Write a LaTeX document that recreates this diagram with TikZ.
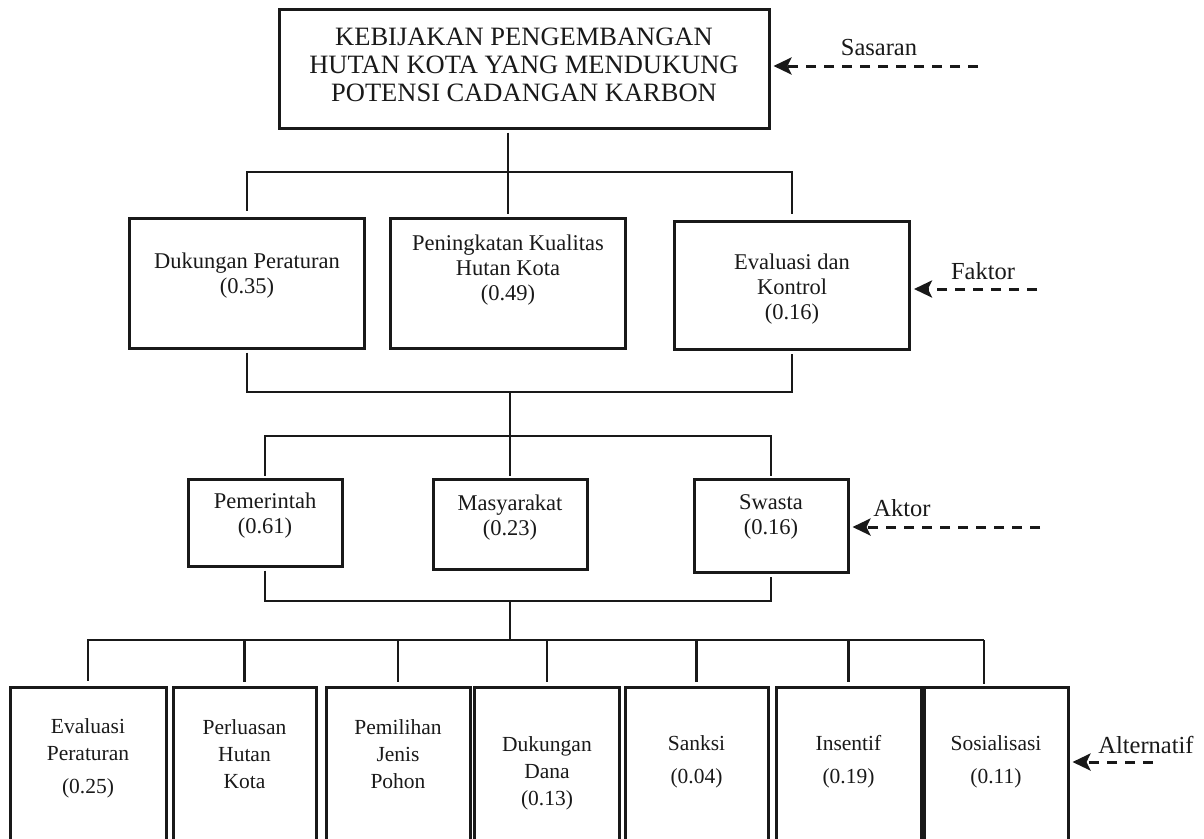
\documentclass[tikz,border=0pt]{standalone}
\usepackage{fontspec}
\setmainfont{Liberation Serif}
\usetikzlibrary{arrows.meta}

\begin{document}
\begin{tikzpicture}
[x = 1pt, y = -1pt,
every node/.style = {text=black!90, inner sep=0pt},
kotak/.style = {draw=black!90, line width=3pt},
tbox/.style = {kotak, minimum width=490pt, minimum height=119pt},
fbox/.style = {kotak, minimum width=235pt, minimum height=130pt},
abox/.style = {kotak, minimum width=154pt, minimum height=88pt},
bbox/.style = {kotak, minimum width=144pt, minimum height=183pt},
ttxt/.style = {align=center, font=\fontsize{26.5}{28}\selectfont},
txt/.style = {align=center, font=\fontsize{22.5}{25}\selectfont},
btxt/.style = {align=center, font=\fontsize{21.5}{27}\selectfont},
lbl/.style = {font=\fontsize{24.5}{28}\selectfont},
garis/.style = {line width=2.4pt, draw=black!90},
panah/.style = {line width=3pt, draw=black!90, dash pattern=on 10pt off 8pt,
  -{Stealth[length=18pt,width=17pt,inset=4pt]}, shorten >=3pt}]
\useasboundingbox (0,0) rectangle (1204,838);
\clip (0,0) rectangle (1204,838);

\node[tbox] (top) at (524,68.5) {};
\node[ttxt] (ttop) at (524,65) {KEBIJAKAN PENGEMBANGAN\\HUTAN KOTA YANG MENDUKUNG\\POTENSI CADANGAN KARBON};

\node[fbox] (f1) at (247,283) {};
\node[fbox] (f2) at (508,283) {};
\node[fbox, minimum height=128pt] (f3) at (792,285) {};
\node[txt] (tf1) at (247,276) {Dukungan Peraturan\\(0.35)};
\node[txt] (tf2) at (508,270) {Peningkatan Kualitas\\Hutan Kota\\(0.49)};
\node[txt] (tf3) at (792,289) {Evaluasi dan\\Kontrol\\(0.16)};

\node[abox, minimum height=87pt] (a1) at (265,522.5) {};
\node[abox, minimum height=90pt] (a2) at (510,524) {};
\node[abox, minimum height=93pt] (a3) at (771,525.5) {};
\node[txt] (ta1) at (265,516) {Pemerintah\\(0.61)};
\node[txt] (ta2) at (510,518) {Masyarakat\\(0.23)};
\node[txt] (ta3) at (771,517) {Swasta\\(0.16)};

\node[bbox, minimum width=156pt] (b1) at (88,778.5) {};
\node[bbox, minimum width=143pt] (b2) at (244.5,778.5) {};
\node[bbox] (b3) at (398,778.5) {};
\node[bbox, minimum width=145pt] (b4) at (547,778.5) {};
\node[bbox, minimum width=143pt] (b5) at (696.5,778.5) {};
\node[bbox, minimum width=145pt] (b6) at (848.5,778.5) {};
\node[bbox] (b7) at (996,778.5) {};
\node[btxt] (tb1) at (88,758) {Evaluasi\\Peraturan\\[6pt](0.25)};
\node[btxt] (tb2) at (244.5,754) {Perluasan\\Hutan\\Kota};
\node[btxt] (tb3) at (398,754) {Pemilihan\\Jenis\\Pohon};
\node[btxt] (tb4) at (547,773) {Dukungan\\Dana\\(0.13)};
\node[btxt] (tb5) at (696.5,762) {Sanksi\\[6pt](0.04)};
\node[btxt] (tb6) at (848.5,762) {Insentif\\[6pt](0.19)};
\node[btxt] (tb7) at (996,762) {Sosialisasi\\[6pt](0.11)};

\coordinate (s1) at (508,172);
\coordinate (s2) at (510,392);
\coordinate (s3) at (510,436);
\coordinate (s4) at (510,601);
\coordinate (s5) at (510,640);
\coordinate (e7) at (984,640);

\draw[garis, shorten <=3pt] (top.south -| s1) -- (s1);
\draw[garis] ([yshift=6pt]f1.north) |- (s1) -| ([yshift=6pt]f3.north);
\draw[garis] (s1) -- ([yshift=3pt]f2.north);
\draw[garis] ([yshift=-3pt]f1.south) |- (s2) -| ([yshift=-3pt]f3.south);
\draw[garis] (s2) -- (s3);
\draw[garis] ([yshift=2pt]a1.north) |- (s3) -| ([yshift=2pt]a3.north);
\draw[garis] (s3) -- ([yshift=2pt]a2.north);
\draw[garis] ([yshift=-3pt]a1.south) |- (s4) -| ([yshift=-3pt]a3.south);
\draw[garis] (s4) -- (s5);
\draw[garis] ([yshift=5pt]b1.north) |- (e7);
\draw[garis, shorten >=2pt] (e7) -- (e7 |- b7.north);
\foreach \i in {2,...,6}
  \draw[garis] (b\i.north |- s5) -- ([yshift=4pt]b\i.north);

\coordinate (c1) at (978,66);
\coordinate (c2) at (1037,289);
\coordinate (c3) at (1040,527);
\coordinate (c4) at (1153,762);
\draw[panah] (c1) -- (c1 -| top.east);
\draw[panah] (c2) -- (c2 -| f3.east);
\draw[panah] (c3) -- (c3 -| a3.east);
\draw[panah] (c4) -- (c4 -| b7.east);
\node[lbl] (l1) at (879,48) {Sasaran};
\node[lbl] (l2) at (983,271) {Faktor};
\node[lbl] (l3) at (902,508) {Aktor};
\node[lbl] (l4) at (1146,745) {Alternatif};

\end{tikzpicture}
\end{document}
